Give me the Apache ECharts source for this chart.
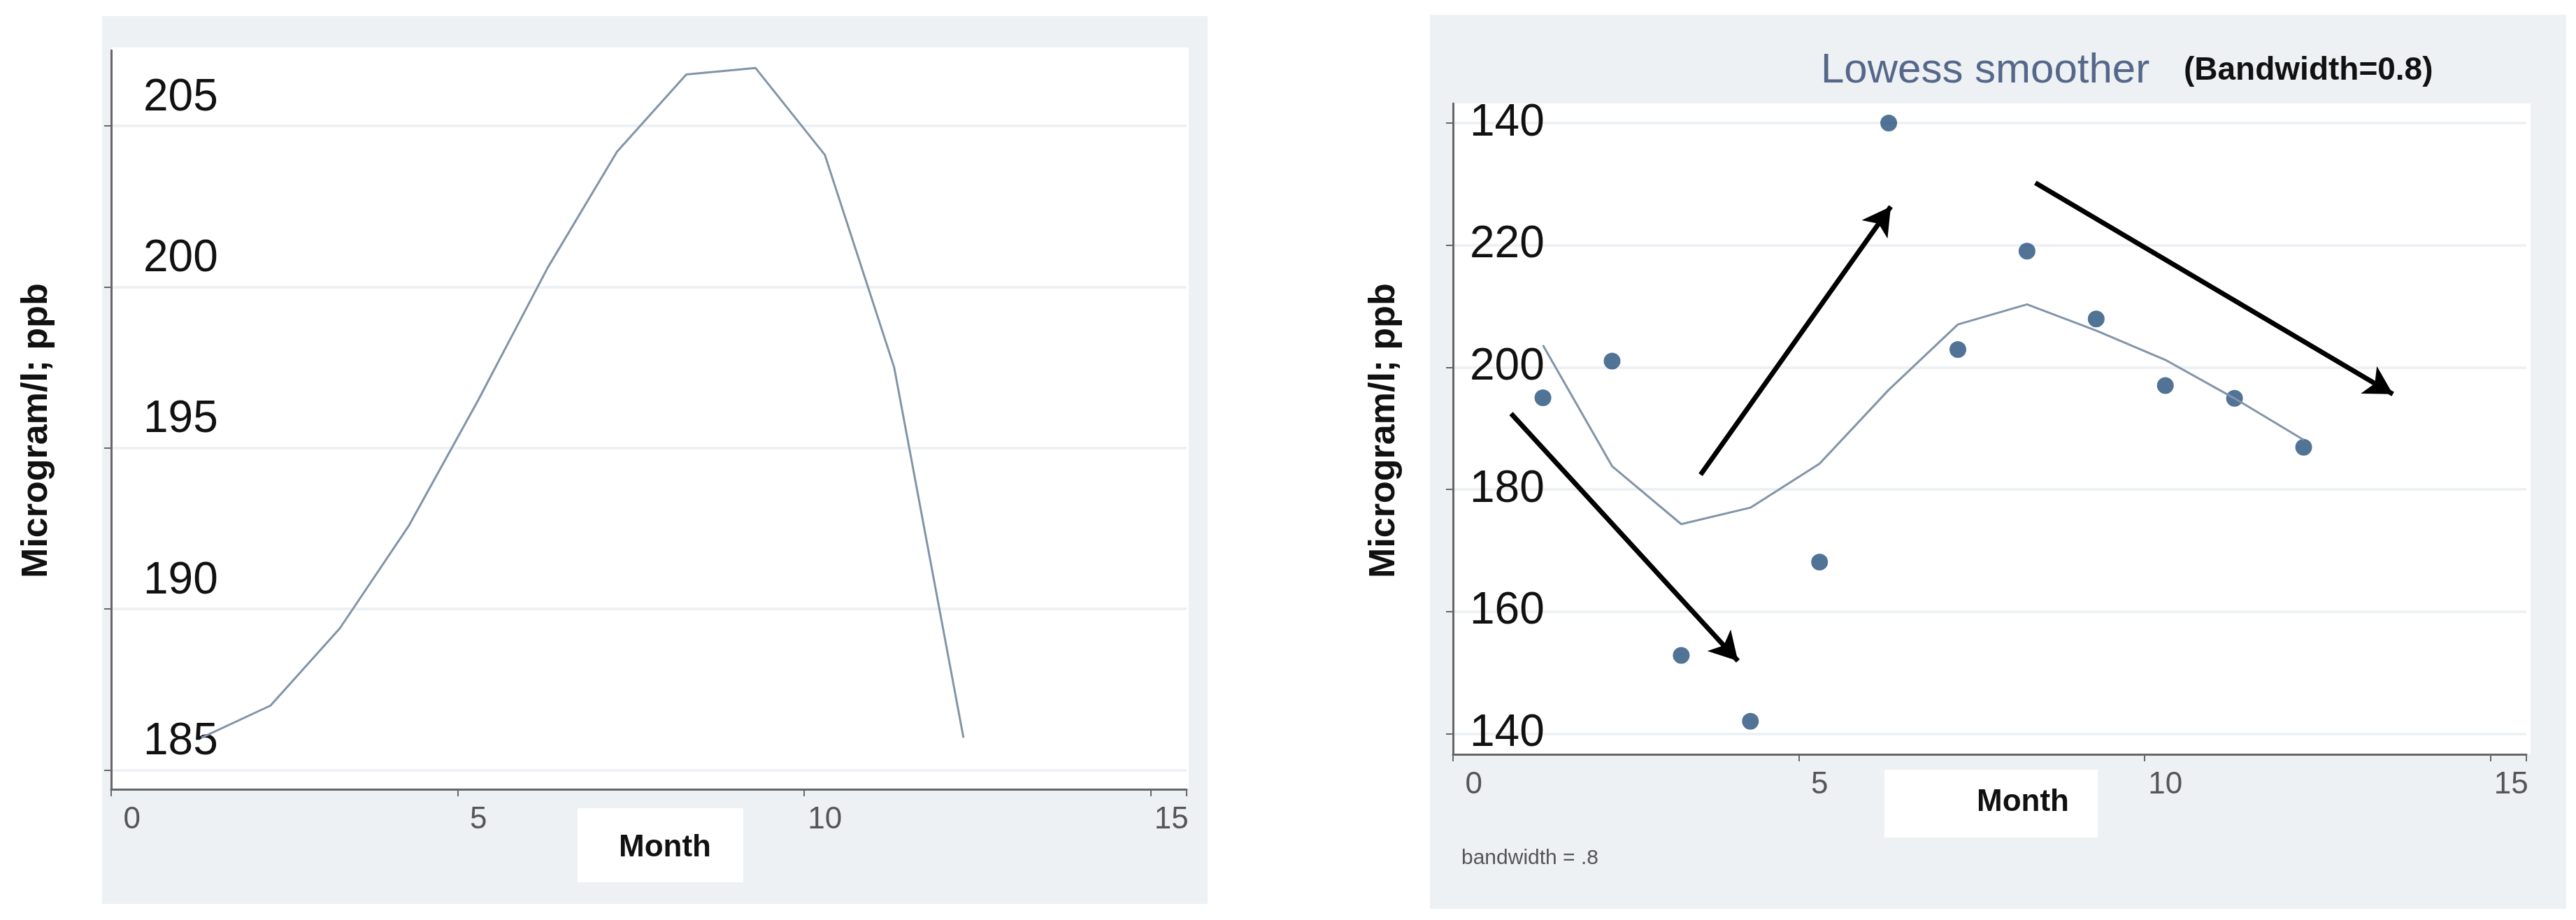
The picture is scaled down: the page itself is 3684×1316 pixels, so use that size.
<!DOCTYPE html>
<html>
<head>
<meta charset="utf-8">
<title>Lowess smoother</title>
<script src="https://cdn.jsdelivr.net/npm/echarts@6/dist/echarts.min.js"></script>
<style>
  html, body { margin: 0; padding: 0; background: #fff; }
  #main { width: 3684px; height: 1316px; }
</style>
</head>
<body>
<div id="main"></div>
<script>
// data
var months = [1, 2, 3, 4, 5, 6, 7, 8, 9, 10, 11, 12];
var leftCurve = [186.0, 187.0, 189.4, 192.6, 196.5, 200.6, 204.2, 206.6, 206.8, 204.1, 197.5, 186.0];
var rightPoints = [195, 201, 152.8, 142, 168.1, 240, 202.9, 219, 207.9, 197, 194.9, 186.9];
var rightSmooth = [203.6, 183.8, 174.3, 177, 184.2, 196.3, 207, 210.3, 206, 201.2, 194.9, 188.1];
var leftTicks = [185, 190, 195, 200, 205];
var rightTicks = [140, 160, 180, 200, 220, 240];
var rightTickLabels = ['140', '160', '180', '200', '220', '140'];
var xTicks = [0, 5, 10, 15];
// annotation arrows [x0, y0, x1, y1] in data units
var arrows = [
  [0.54, 192.4, 3.82, 151.9],
  [3.28, 182.4, 6.03, 226.3],
  [8.12, 230.2, 13.29, 195.6]
];

var FONT = '"Liberation Sans Narrow", "Liberation Sans", Arial, sans-serif';
var lineColor = '#8194a8';
var dotColor = '#24507c';

function pairs(ys) {
  return months.map(function (m, i) { return [m, ys[i]]; });
}

var chart = echarts.init(document.getElementById('main'));

function xAxisFor(grid) {
  return {
    type: 'value', gridIndex: grid, min: -0.3, max: 15.22, interval: 5,
    axisLine: { show: true, onZero: false, lineStyle: { color: '#666', width: 3 } },
    axisTick: { show: true, length: 10, lineStyle: { color: '#666', width: 2 } },
    axisLabel: {
      fontFamily: FONT, fontSize: 44, color: '#555', margin: 22,
      customValues: xTicks, formatter: function (v) { return xTicks.indexOf(v) >= 0 ? String(v) : ''; }
    },
    splitLine: { show: false }
  };
}

var option = {
  animation: false,
  graphic: [
    { type: 'rect', z: -10, shape: { x: 146, y: 23, width: 1581, height: 1270 }, style: { fill: '#edf1f4' } },
    { type: 'rect', z: -10, shape: { x: 2045, y: 21, width: 1625, height: 1279 }, style: { fill: '#edf1f4' } },
    { type: 'rect', z: -9, shape: { x: 159, y: 68, width: 1541, height: 1061 }, style: { fill: '#fff' } },
    { type: 'rect', z: -9, shape: { x: 2078, y: 148, width: 1541, height: 931 }, style: { fill: '#fff' } },
    { type: 'rect', z: 5, shape: { x: 826, y: 1156, width: 237, height: 106 }, style: { fill: '#fff' } },
    { type: 'rect', z: 5, shape: { x: 2695, y: 1101, width: 305, height: 97 }, style: { fill: '#fff' } },
    { type: 'text', z: 6, x: 951, y: 1213, style: { text: 'Month', font: 'bold 44px ' + FONT, fill: '#111', align: 'center', verticalAlign: 'middle' } },
    { type: 'text', z: 6, x: 2893, y: 1148, style: { text: 'Month', font: 'bold 44px ' + FONT, fill: '#111', align: 'center', verticalAlign: 'middle' } },
    { type: 'text', x: 53, y: 616, rotation: Math.PI / 2, style: { text: 'Microgram/l; ppb', font: 'bold 52px "Liberation Sans", Arial, sans-serif', fill: '#111', align: 'center', verticalAlign: 'middle' } },
    { type: 'text', x: 1980, y: 616, rotation: Math.PI / 2, style: { text: 'Microgram/l; ppb', font: 'bold 52px "Liberation Sans", Arial, sans-serif', fill: '#111', align: 'center', verticalAlign: 'middle' } },
    { type: 'text', x: 2604, y: 101, style: { text: 'Lowess smoother', font: '60px ' + FONT, fill: '#56688a', verticalAlign: 'middle' } },
    { type: 'text', x: 3123, y: 101, style: { text: '(Bandwidth=0.8)', font: 'bold 46px ' + FONT, fill: '#111', verticalAlign: 'middle' } },
    { type: 'text', x: 2090, y: 1228, style: { text: 'bandwidth = .8', font: '30px ' + FONT, fill: '#555', verticalAlign: 'middle' } }
  ],
  grid: [
    { left: 159, top: 72, width: 1538, height: 1057 },
    { left: 2078, top: 148, width: 1535, height: 931 }
  ],
  xAxis: [xAxisFor(0), xAxisFor(1)],
  yAxis: [
    {
      type: 'value', gridIndex: 0, min: 184.4, max: 207.35,
      axisLine: { show: true, onZero: false, lineStyle: { color: '#666', width: 3 } },
      axisTick: { show: true, length: 10, lineStyle: { color: '#666', width: 2 }, customValues: leftTicks },
      axisLabel: {
        inside: true, margin: 46, fontFamily: FONT, fontSize: 64, color: '#111',
        verticalAlign: 'bottom', padding: [0, 0, 8, 0], customValues: leftTicks
      },
      splitLine: { show: true, lineStyle: { color: '#eef1f4', width: 4 }, customValues: leftTicks }
    },
    {
      type: 'value', gridIndex: 1, min: 136.6, max: 243.2,
      axisLine: { show: true, onZero: false, lineStyle: { color: '#666', width: 3 } },
      axisTick: { show: true, length: 10, lineStyle: { color: '#666', width: 2 }, customValues: rightTicks },
      axisLabel: {
        inside: true, margin: 24, fontFamily: FONT, fontSize: 64, color: '#111',
        verticalAlign: 'middle', padding: [0, 0, 14, 0], customValues: rightTicks,
        formatter: function (v) { var i = rightTicks.indexOf(v); return i >= 0 ? rightTickLabels[i] : ''; }
      },
      splitLine: { show: true, lineStyle: { color: '#eef1f4', width: 4 }, customValues: rightTicks }
    }
  ],
  series: [
    {
      type: 'line', xAxisIndex: 0, yAxisIndex: 0, data: pairs(leftCurve),
      showSymbol: false, lineStyle: { color: lineColor, width: 3 }
    },
    {
      type: 'scatter', xAxisIndex: 1, yAxisIndex: 1, data: pairs(rightPoints),
      symbolSize: 24, itemStyle: { color: dotColor }
    },
    {
      type: 'line', xAxisIndex: 1, yAxisIndex: 1, data: pairs(rightSmooth),
      showSymbol: false, lineStyle: { color: lineColor, width: 3 },
      markLine: {
        silent: true, symbol: ['none', 'arrow'], symbolSize: [34, 40],
        label: { show: false },
        lineStyle: { color: '#000', width: 7, type: 'solid' },
        data: arrows.map(function (a) {
          return [{ coord: [a[0], a[1]] }, { coord: [a[2], a[3]] }];
        })
      }
    }
  ]
};

chart.setOption(option);
</script>
</body>
</html>
